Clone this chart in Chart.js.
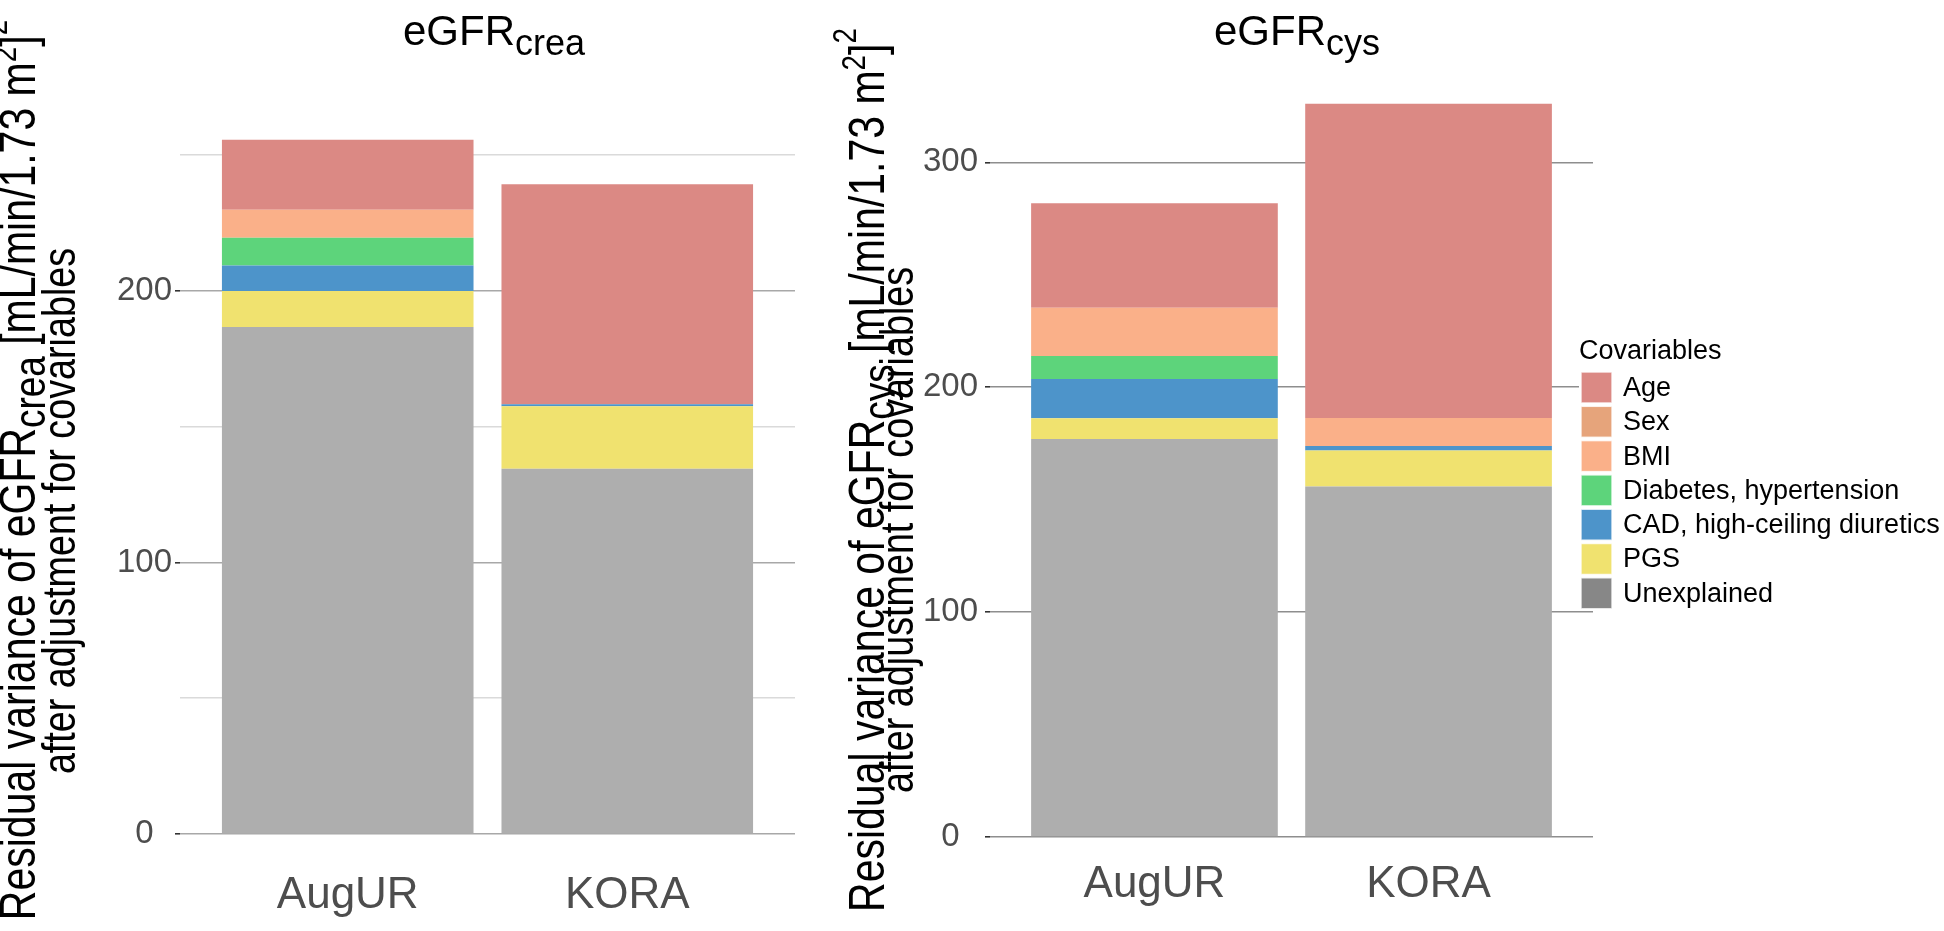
<!DOCTYPE html>
<html>
<head>
<meta charset="utf-8">
<script src="https://cdn.jsdelivr.net/npm/chart.js@4.4.1/dist/chart.umd.min.js"></script>
<style>
  html, body { margin: 0; padding: 0; background: #ffffff; }
  body { width: 1944px; height: 931px; position: relative; overflow: hidden; }
  canvas { position: absolute; top: 0; }
  #left { left: 0; }
  #right { left: 820px; }
</style>
</head>
<body>
<canvas id="left" width="820" height="931"></canvas>
<canvas id="right" width="1124" height="931"></canvas>
<script>
// ---------------- DATA ----------------
const categories = ['AugUR', 'KORA'];
const covariables = ['Age', 'Sex', 'BMI', 'Diabetes, hypertension', 'CAD, high-ceiling diuretics', 'PGS', 'Unexplained'];

// eGFR crea (residual variance components)
const creaAge = [25.8, 81.0];
const creaSex = [0, 0];
const creaBMI = [10.3, 0];
const creaDiab = [10.2, 0];
const creaCAD = [9.4, 0.8];
const creaPGS = [13.3, 23.0];
const creaUnexplained = [186.7, 134.5];

// eGFR cys
const cysAge = [46.4, 139.8];
const cysSex = [0, 0];
const cysBMI = [21.5, 12.4];
const cysDiab = [10.2, 0];
const cysCAD = [17.5, 2.0];
const cysPGS = [9.2, 16.0];
const cysUnexplained = [177.0, 155.9];

// tick values
const creaTicks = [0, 50, 100, 150, 200, 250];
const creaLabelledTicks = [0, 100, 200];
const cysTicks = [0, 100, 200, 300];
const cysLabelledTicks = [0, 100, 200, 300];

// ---------------- STYLE ----------------
const FONT = '"Liberation Sans", Arial, Helvetica, sans-serif';
function hasFont(name) {
  const c = document.createElement('canvas').getContext('2d');
  c.font = '100px monospace';
  const a = c.measureText('abcdefghijKLM').width;
  c.font = '100px "' + name + '", monospace';
  return c.measureText('abcdefghijKLM').width !== a;
}
const HAS_NARROW = hasFont('Liberation Sans Narrow');
const NFONT = HAS_NARROW ? '"Liberation Sans Narrow", "Liberation Sans", Arial, sans-serif' : FONT;
const NSCALE = HAS_NARROW ? 1 : 0.82;

const colors = {
  'Age': '#DB8984',
  'Sex': '#E6A47B',
  'BMI': '#FAB089',
  'Diabetes, hypertension': '#5DD47B',
  'CAD, high-ceiling diuretics': '#4D94CA',
  'PGS': '#F0E26F',
  'Unexplained': '#AEAEAE'
};
const legendColors = Object.assign({}, colors, { 'Unexplained': '#878787' });

function makeDatasets(series) {
  // stacking order bottom -> top
  const order = ['Unexplained', 'PGS', 'CAD, high-ceiling diuretics', 'Diabetes, hypertension', 'BMI', 'Sex', 'Age'];
  return order.map(name => ({
    label: name,
    data: series[name].map((v, i) => ({ x: i + 1, y: v })),
    backgroundColor: colors[name],
    borderWidth: 0,
    barPercentage: 0.9,
    categoryPercentage: 1.0
  }));
}

// segments: {text, size, dy, narrow}
function drawRich(ctx, segs, x, y, rotate, color) {
  ctx.save();
  ctx.translate(x, y);
  if (rotate) ctx.rotate(-Math.PI / 2);
  const fam = s => s.narrow ? NFONT : FONT;
  const sc = s => s.narrow ? NSCALE : 1;
  let w = 0;
  segs.forEach(s => { ctx.font = s.size + 'px ' + fam(s); s.w = ctx.measureText(s.text).width * sc(s); w += s.w; });
  let cx = -w / 2;
  ctx.textBaseline = 'alphabetic';
  ctx.textAlign = 'left';
  ctx.fillStyle = color || '#000';
  segs.forEach(s => {
    ctx.save();
    ctx.translate(cx, s.dy || 0);
    ctx.scale(sc(s), 1);
    ctx.font = s.size + 'px ' + fam(s);
    ctx.fillText(s.text, 0, 0);
    ctx.restore();
    cx += s.w;
  });
  ctx.restore();
}

const annotPlugin = {
  id: 'annot',
  afterDatasetsDraw(chart, args, opts) {
    const ctx = chart.ctx;
    drawRich(ctx, opts.title, opts.titleX, opts.titleY, false, '#000');
    drawRich(ctx, opts.yLine1, opts.y1X, opts.y1Center, true, '#000');
    drawRich(ctx, opts.yLine2, opts.y2X, opts.y2Center, true, '#000');
    if (opts.legend) {
      const L = opts.legend;
      ctx.save();
      ctx.font = '27px ' + FONT;
      ctx.fillStyle = '#000';
      ctx.textBaseline = 'alphabetic';
      ctx.textAlign = 'left';
      ctx.fillText('Covariables', L.x - 2, L.titleY);
      covariables.forEach((name, i) => {
        const top = L.top + i * L.step;
        ctx.fillStyle = '#ffffff';
        ctx.fillRect(L.x - 2, top - 2, L.size + 4, L.size + 4);
        ctx.fillStyle = legendColors[name];
        ctx.fillRect(L.x, top, L.size, L.size);
        ctx.strokeStyle = 'rgba(255,255,255,0.8)';
        ctx.lineWidth = 1.5;
        ctx.strokeRect(L.x, top, L.size, L.size);
        ctx.fillStyle = '#000';
        ctx.textBaseline = 'middle';
        ctx.font = '27px ' + FONT;
        ctx.fillText(name, L.x + 42, top + L.size / 2 + 1);
      });
      ctx.restore();
    }
  }
};

function makeChart(id, series, cfg) {
  return new Chart(document.getElementById(id), {
    type: 'bar',
    data: { datasets: makeDatasets(series) },
    plugins: [annotPlugin],
    options: {
      responsive: false,
      devicePixelRatio: 1,
      animation: false,
      layout: { padding: { top: cfg.padTop, right: cfg.padRight, bottom: 0, left: 0 } },
      plugins: {
        legend: { display: false },
        tooltip: { enabled: false },
        annot: cfg.annot
      },
      scales: {
        x: {
          type: 'linear',
          stacked: true,
          offset: false,
          min: 0.4,
          max: 2.6,
          afterBuildTicks: s => { s.ticks = categories.map((c, i) => ({ value: i + 1 })); },
          afterFit: s => { s.height = cfg.xHeight; },
          grid: { display: false, drawTicks: false },
          border: { display: false },
          ticks: {
            autoSkip: false,
            maxRotation: 0,
            padding: cfg.xPad,
            color: '#4D4D4D',
            font: { family: FONT, size: 44 },
            callback: v => categories[v - 1] || ''
          }
        },
        y: {
          stacked: true,
          min: 0,
          max: cfg.yMax,
          afterBuildTicks: s => { s.ticks = cfg.ticks.map(v => ({ value: v })); },
          afterFit: s => { s.width = cfg.yWidth; },
          border: { display: false },
          grid: {
            color: c => cfg.labelled.includes(c.tick.value) ? cfg.majorColor : '#DADADA',
            lineWidth: 1.6,
            tickLength: 5,
            tickColor: c => cfg.labelled.includes(c.tick.value) ? '#333333' : 'rgba(0,0,0,0)'
          },
          ticks: {
            padding: cfg.yPad,
            crossAlign: 'center',
            color: '#4D4D4D',
            font: { family: FONT, size: 33 },
            callback: v => cfg.labelled.includes(v) ? String(v) : ''
          }
        }
      }
    }
  });
}

const creaSeries = {
  'Age': creaAge, 'Sex': creaSex, 'BMI': creaBMI, 'Diabetes, hypertension': creaDiab,
  'CAD, high-ceiling diuretics': creaCAD, 'PGS': creaPGS, 'Unexplained': creaUnexplained
};
const cysSeries = {
  'Age': cysAge, 'Sex': cysSex, 'BMI': cysBMI, 'Diabetes, hypertension': cysDiab,
  'CAD, high-ceiling diuretics': cysCAD, 'PGS': cysPGS, 'Unexplained': cysUnexplained
};

function yLine1(sub) {
  return [{ text: 'Residual variance of eGFR', size: 50, narrow: true }, { text: sub, size: 45, dy: 10, narrow: true },
          { text: ' [mL/min/1.73 m', size: 50, narrow: true }, { text: '2', size: 34, dy: -19, narrow: true },
          { text: ']', size: 50, narrow: true }, { text: '2', size: 34, dy: -28, narrow: true }];
}
const yLine2 = [{ text: 'after adjustment for covariables', size: 46, narrow: true }];

makeChart('left', creaSeries, {
  padTop: 105, padRight: 25, xHeight: 97, xPad: 35, yWidth: 180, yPad: 3, yMax: 268.5,
  ticks: creaTicks, labelled: creaLabelledTicks, majorColor: '#A8A8A8',
  annot: {
    title: [{ text: 'eGFR', size: 42 }, { text: 'crea', size: 36, dy: 10 }],
    titleX: 494, titleY: 45,
    yLine1: yLine1('crea'),
    yLine2: yLine2,
    y1X: 35, y2X: 75, y1Center: 470, y2Center: 511
  }
});

makeChart('right', cysSeries, {
  padTop: 67, padRight: 351, xHeight: 94, xPad: 21, yWidth: 170, yPad: 7, yMax: 342.4,
  ticks: cysTicks, labelled: cysLabelledTicks, majorColor: '#8E8E8E',
  annot: {
    title: [{ text: 'eGFR', size: 42 }, { text: 'cys', size: 36, dy: 10 }],
    titleX: 477, titleY: 45,
    yLine1: yLine1('cys'),
    yLine2: yLine2,
    y1X: 64, y2X: 93, y1Center: 470, y2Center: 530,
    legend: { x: 761, top: 372, step: 34.3, size: 31, titleY: 359 }
  }
});
</script>
</body>
</html>
